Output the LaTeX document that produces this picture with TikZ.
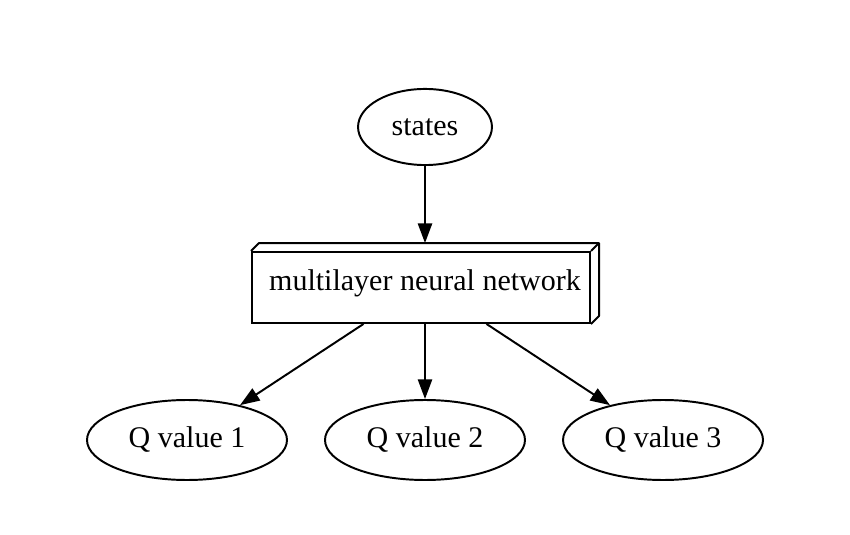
\documentclass[tikz,border=0pt]{standalone}
\usepackage{fontspec}
\setmainfont{Liberation Serif}
\usetikzlibrary{arrows.meta,shapes.geometric}

\begin{document}
\begin{tikzpicture}[x=0.46pt,y=-0.46pt,
  every node/.style={font=\fontsize{13.8}{16}\selectfont,line width=0.9pt},
  val/.style={draw,ellipse,minimum width=92pt,minimum height=36.8pt,inner sep=0pt},
  link/.style={line width=0.9pt,-{Triangle[length=9pt,width=6.5pt]}}]
\useasboundingbox (0,0) rectangle (850,535);
\node[draw,ellipse,minimum width=61.6pt,minimum height=35pt,inner sep=0pt] (states) at (425,127) {states};
% front face of the 3d box
\node[draw,minimum width=155.5pt,minimum height=32.7pt,inner sep=0pt] (face) at (421,287.5) {};
% outer box of the 3d shape, used for the label and the arrows
\node[minimum width=159.2pt,minimum height=36.3pt,inner sep=0pt] (mlp) at (425,283.5) {multilayer neural network};
\draw[line width=0.9pt,line join=round] (face.north west) -- ([shift={(8,0)}]mlp.north west) -- (mlp.north east) -- ([shift={(0,-8)}]mlp.south east) -- (face.south east);
\draw[line width=0.9pt] (face.north east) -- (mlp.north east);
\node[val] (q1) at (187,440) {Q value 1};
\node[val] (q2) at (425,440) {Q value 2};
\node[val] (q3) at (663,440) {Q value 3};
\draw[link] (states) -- (mlp);
\draw[link] (mlp) -- (q1);
\draw[link] (mlp) -- (q2);
\draw[link] (mlp) -- (q3);
\end{tikzpicture}
\end{document}
